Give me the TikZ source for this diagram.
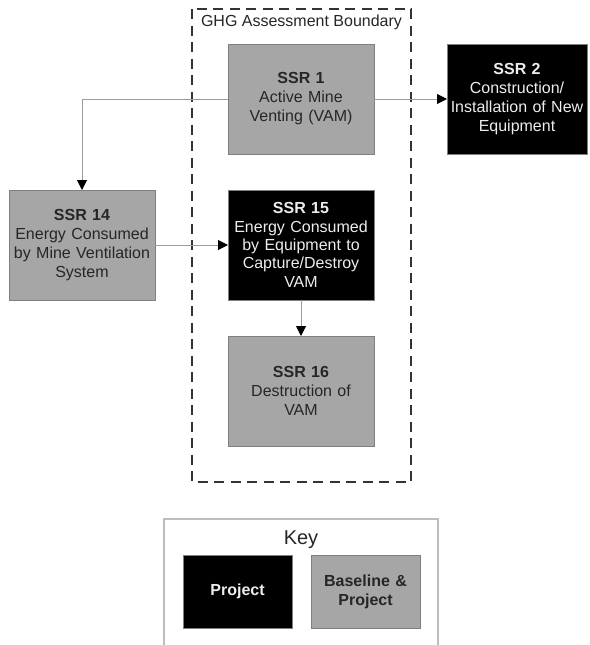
\documentclass[tikz,border=0pt]{standalone}
\usepackage{fontspec}
\setmainfont{Liberation Sans}
\usetikzlibrary{arrows.meta, positioning}

\definecolor{ssrgray}{HTML}{A6A6A6}
\definecolor{rimgray}{HTML}{7F7F7F}
\definecolor{wiregray}{HTML}{9C9C9C}
\definecolor{keygray}{HTML}{BDBDBD}

\begin{document}
\begin{tikzpicture}[x=1pt, y=-1pt, >={Triangle[length=10pt, width=10pt, black]}, node distance=36pt and 73pt]
    \tikzstyle{ssr} = [rectangle, draw=rimgray, line width=1pt, outer sep=0pt, inner sep=0pt,
                       minimum width=146pt, minimum height=110pt, text width=140pt, align=center,
                       font=\fontsize{16}{19}\selectfont]
    \tikzstyle{base} = [ssr, fill=ssrgray, text=black!85]
    \tikzstyle{proj} = [ssr, fill=black, text=white!93!black]
    \tikzstyle{edge} = [->, draw=wiregray, line width=1pt]

    \useasboundingbox (0,0) rectangle (589,645);

    % Assessment boundary
    \draw[dashed, dash pattern=on 10pt off 6.5pt, line width=1.8pt, black!80] (192,9) rectangle (411,482);
    \node[font=\fontsize{16}{19}\selectfont, text=black!85] (ghg) at (301.5,22) {GHG Assessment Boundary};

    % Define nodes
    \node[base] (ssr1) at (301,99) {\textbf{SSR 1}\\Active Mine\\Venting (VAM)};
    \node[proj, minimum width=140pt, text width=136pt] (ssr2) [right=of ssr1] {\textbf{SSR 2}\\Construction/\\Installation of New\\Equipment};
    \node[proj, font=\fontsize{16}{18.3}\selectfont] (ssr15) [below=of ssr1] {\textbf{SSR 15}\\Energy Consumed\\by Equipment to\\Capture/Destroy\\VAM};
    \node[base] (ssr14) [left=of ssr15] {\textbf{SSR 14}\\Energy Consumed\\by Mine Ventilation\\System};
    \node[base] (ssr16) [below=of ssr15] {\textbf{SSR 16}\\Destruction of\\VAM};

    % Draw edges
    \draw[edge] (ssr1.west) -| (ssr14.north);
    \draw[edge] (ssr1.east) -- (ssr2.west);
    \draw[edge] (ssr14.east) -- (ssr15.west);
    \draw[edge] (ssr15.south) -- (ssr16.north);

    % Key
    \draw[keygray, line width=1.2pt] (164,645) |- (438,519) -- (438,645);
    \node[font=\fontsize{20}{24}\selectfont, text=black!85] (key) at (301,540) {Key};
    \node[proj, minimum width=109pt, minimum height=73pt, text width=105pt] (project) at (237.5,591.5) {\textbf{Project}};
    \node[base, minimum width=109pt, minimum height=73pt, text width=105pt] (baseline) [right=19pt of project] {\textbf{Baseline \&}\\\textbf{Project}};
\end{tikzpicture}
\end{document}
